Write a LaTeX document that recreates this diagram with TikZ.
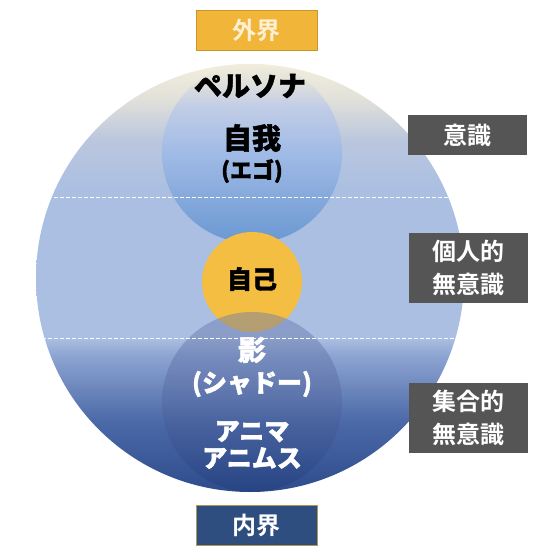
\documentclass[tikz,border=0pt]{standalone}
\usepackage{fontspec}
\newfontfamily\jpfont{Noto Sans CJK JP}[BoldFont={Noto Sans CJK JP Bold}]
\newfontfamily\jpheavy{Noto Sans CJK JP Bold}[FakeBold=1.6]
\usepackage{xcolor}
\usepackage{tikz}

\definecolor{cream}{HTML}{F2EEDD}
\definecolor{creamblue}{HTML}{E2E1DA}
\definecolor{paleblue}{HTML}{AABFE2}
\definecolor{paleblueB}{HTML}{BAC6DE}
\definecolor{lowblue}{HTML}{8EA5D2}
\definecolor{midnavy}{HTML}{4C6AA8}
\definecolor{deepnavy}{HTML}{2E4C8C}
\definecolor{egotop}{HTML}{C2CDE6}
\definecolor{egomid}{HTML}{A2BCE6}
\definecolor{egolow}{HTML}{6A98D2}
\definecolor{selfyellow}{HTML}{F3BE42}
\definecolor{shadetop}{HTML}{6A7AAE}
\definecolor{shadelow}{HTML}{1E3A7A}
\definecolor{outerfill}{HTML}{F1B53A}
\definecolor{outerline}{HTML}{C9962C}
\definecolor{outertext}{HTML}{FCF1D4}
\definecolor{innerfill}{HTML}{2F4E80}
\definecolor{innerline}{HTML}{B39650}
\definecolor{boxgray}{HTML}{555555}

\pgfdeclareverticalshading{psyche}{100bp}{color(0bp)=(deepnavy); color(25bp)=(deepnavy);
  color(33.4bp)=(midnavy); color(41bp)=(lowblue); color(43bp)=(paleblue);
  color(60bp)=(paleblue); color(66bp)=(paleblueB); color(71bp)=(creamblue);
  color(75bp)=(cream); color(100bp)=(cream)}
\pgfdeclareverticalshading{egograd}{100bp}{color(0bp)=(egolow); color(25bp)=(egolow);
  color(50.8bp)=(egomid); color(63bp)=(egotop); color(70bp)=(creamblue); color(75bp)=(cream); color(100bp)=(cream)}
\pgfdeclareverticalshading{shadowgrad}{100bp}{color(0bp)=(shadelow); color(25bp)=(shadelow);
  color(50bp)=(shadetop!70!shadelow); color(75bp)=(shadetop); color(100bp)=(shadetop)}

\tikzset{
  sidebox/.style={fill=boxgray, text=white, minimum width=119pt, inner sep=0pt,
    align=center, font=\jpfont\bfseries\fontsize{24}{33}\selectfont},
  worldbox/.style={minimum width=121pt, minimum height=40pt, inner sep=0pt,
    line width=0.8pt, font=\jpfont\bfseries\fontsize{24}{26}\selectfont},
  bigword/.style={font=\jpheavy\bfseries\fontsize{28}{30}\selectfont, inner sep=0pt},
  smallword/.style={font=\jpheavy\bfseries\fontsize{22}{24}\selectfont, inner sep=0pt}
}

\begin{document}
\begin{tikzpicture}[x=1pt, y=-1pt]
        \useasboundingbox (0,0) rectangle (553,554);

        % the psyche
        \shade[shading=psyche] (250,278) circle (214pt);
        \begin{scope}
                \clip (250,278) circle (214pt);
                \shade[shading=egograd] (252,153) circle (90pt);
                \fill[selfyellow] (252,282) circle (50pt);
                \shade[shading=shadowgrad, opacity=0.45] (252,402) circle (90pt);
                \foreach \y in {197,338} {
                        \draw[white, line width=0.8pt, dash pattern=on 4pt off 2pt] (30,\y) -- (470,\y);
                    }
        \end{scope}

        \node[bigword] (persona) at (250,86) {ペルソナ};
        \node[bigword, font=\jpheavy\bfseries\fontsize{29}{30}\selectfont] (ego) at (252,138) {自我};
        \node[smallword] (egoread) at (252,171) {(エゴ)};
        \node[bigword, font=\jpheavy\bfseries\fontsize{25}{27}\selectfont] (self) at (252,279) {自己};
        \node[bigword, text=white] (shadow) at (252,350) {影};
        \node[bigword, text=white, font=\jpheavy\bfseries\fontsize{25}{27}\selectfont] (shadowread) at (252,384) {(シャドー)};
        \node[bigword, text=white, align=center, font=\jpheavy\bfseries\fontsize{25}{27}\selectfont] (anima) at (252,445) {アニマ\\アニムス};

        % outer and inner world
        \node[worldbox, fill=outerfill, draw=outerline, text=outertext] (outer) at (256.5,30) {外界};
        \node[worldbox, fill=innerfill, draw=innerline, text=white] (inner) at (256.5,525) {内界};

        % layers
        \node[sidebox, minimum height=40pt] (conscious) at (467,135) {意識};
        \node[sidebox, minimum height=70pt] (personal) at (468.5,268) {個人的\\無意識};
        \node[sidebox, minimum height=70pt] (collective) at (468.5,418) {集合的\\無意識};
    \end{tikzpicture}
\end{document}
